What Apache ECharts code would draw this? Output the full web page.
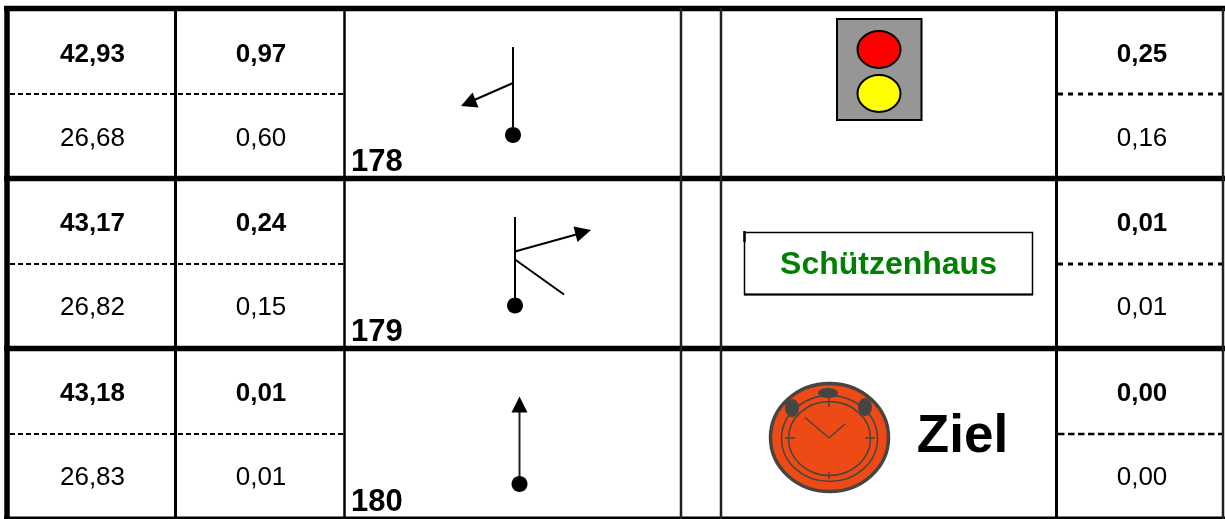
<!DOCTYPE html>
<html>
<head>
<meta charset="utf-8">
<style>
  html, body { margin: 0; padding: 0; background: #fff; }
  #chart { width: 1225px; height: 519px; }
</style>
<script src="https://cdn.jsdelivr.net/npm/echarts@6/dist/echarts.min.js"></script>
</head>
<body>
<div id="chart"></div>
<script>
// table values, one entry per row
var stationIds = [178, 179, 180];
var totalTop = [42.93, 43.17, 43.18];
var totalBottom = [26.68, 26.82, 26.83];
var legTop = [0.97, 0.24, 0.01];
var legBottom = [0.60, 0.15, 0.01];
var restTop = [0.25, 0.01, 0.00];
var restBottom = [0.16, 0.01, 0.00];
var landmarkLabels = ["", "Schützenhaus", "Ziel"];

// layout, in the pixel units of the hidden axes
var rowLines = [8.5, 178.5, 348.5, 518];
var dashLines = [94, 264, 434];
var rowTextTop = [55, 224, 394];
var rowTextBottom = [139, 308, 478];
var idBaseline = [162, 332, 502];
var colLines = [7, 175.5, 344.5, 681, 721, 1056.5, 1223];
var colCenter = { total: 92.5, leg: 261, rest: 1142 };

var FONT = '"Liberation Sans", Arial, sans-serif';

function fmt(v) {
  return v.toFixed(2).replace(".", ",");
}

function seg(api, x1, y1, x2, y2, w, color, dash) {
  var a = api.coord([x1, y1]);
  var b = api.coord([x2, y2]);
  return {
    type: "line",
    shape: { x1: a[0], y1: a[1], x2: b[0], y2: b[1] },
    style: { stroke: color || "#000", lineWidth: w, lineDash: dash || null }
  };
}

function label(api, x, y, str, size, bold, color, align) {
  var p = api.coord([x, y]);
  return {
    type: "text",
    style: {
      text: str,
      x: p[0],
      y: p[1],
      font: (bold ? "bold " : "") + size + "px " + FONT,
      fill: color || "#000",
      align: align || "center",
      verticalAlign: "middle"
    }
  };
}

function poly(api, pts, fill) {
  return {
    type: "polygon",
    shape: { points: pts.map(function(p) { return api.coord(p); }) },
    style: { fill: fill || "#000" }
  };
}

function ellipse(api, cx, cy, rx, ry, fill, stroke, w) {
  var c = api.coord([cx, cy]);
  return {
    type: "ellipse",
    shape: { cx: c[0], cy: c[1], rx: rx, ry: ry },
    style: { fill: fill || "none", stroke: stroke || null, lineWidth: w || 0 }
  };
}

function renderGrid(params, api) {
  var kids = [];
  rowLines.forEach(function(y, i) {
    kids.push(seg(api, 4, y, 1225, y, i === 3 ? 3 : 5.5));
  });
  colLines.forEach(function(x, i) {
    var w = i === 0 ? 5.5 : (i === 1 || i === 5 ? 3 : 2.5);
    var color = i === 3 || i === 4 || i === 6 ? "#222" : "#000";
    kids.push(seg(api, x, 8, x, 519, w, color));
  });
  dashLines.forEach(function(y, i) {
    kids.push(seg(api, 10, y, 343, y, 2, "#000", [5, 3]));
    // the last column has heavier dashes than the left ones
    kids.push(seg(api, 1058, y, 1222, y, i === 2 ? 2.5 : 3, "#000", i === 2 ? [6.5, 3.5] : [5, 5]));
  });
  return { type: "group", children: kids };
}

function renderCells(params, api) {
  var i = api.value(0);
  var kids = [
    label(api, colCenter.total, rowTextTop[i], fmt(totalTop[i]), 26, true),
    label(api, colCenter.total, rowTextBottom[i], fmt(totalBottom[i]), 26, false),
    label(api, colCenter.leg, rowTextTop[i], fmt(legTop[i]), 26, true),
    label(api, colCenter.leg, rowTextBottom[i], fmt(legBottom[i]), 26, false),
    label(api, colCenter.rest, rowTextTop[i], fmt(restTop[i]), 26, true),
    label(api, colCenter.rest, rowTextBottom[i], fmt(restBottom[i]), 26, false),
    label(api, 351, idBaseline[i], String(stationIds[i]), 31, true, "#000", "left")
  ];
  return { type: "group", children: kids };
}

function renderTurns(params, api) {
  var i = api.value(0);
  var kids = [];
  if (i === 0) {
    kids.push(seg(api, 513, 47, 513, 135, 2));
    kids.push(seg(api, 513, 83, 472, 101, 2));
    kids.push(poly(api, [[461, 106], [472.5, 92.5], [478.5, 107.5]]));
    kids.push(ellipse(api, 513, 135, 8, 8, "#000"));
  } else if (i === 1) {
    kids.push(seg(api, 515, 217, 515, 305, 2));
    kids.push(seg(api, 515, 251.5, 578, 234, 2));
    kids.push(seg(api, 515, 259.5, 564, 294.5, 2));
    kids.push(poly(api, [[591, 230], [573.5, 226.5], [577.5, 242]]));
    kids.push(ellipse(api, 515, 305.5, 8, 8, "#000"));
  } else {
    kids.push(seg(api, 519.5, 410, 519.5, 484, 2, "#222"));
    kids.push(poly(api, [[519.5, 396.5], [511.5, 412.5], [527.5, 412.5]]));
    kids.push(ellipse(api, 519.5, 484, 8, 8, "#000"));
  }
  return { type: "group", children: kids };
}

function renderLandmarks(params, api) {
  var i = api.value(0);
  var kids = [];
  if (i === 0) {
    var a = api.coord([837, 19]);
    kids.push({
      type: "rect",
      shape: { x: a[0], y: a[1], width: 84.5, height: 101 },
      style: { fill: "#969696", stroke: "#000", lineWidth: 2 }
    });
    kids.push(ellipse(api, 879, 49.5, 21.5, 18.5, "#ff0000", "#000", 2));
    kids.push(ellipse(api, 879, 93.5, 21.5, 18.5, "#ffff00", "#000", 2));
  } else if (i === 1) {
    var b = api.coord([744.5, 232.5]);
    kids.push({
      type: "rect",
      shape: { x: b[0], y: b[1], width: 288, height: 62 },
      style: { fill: "#fff", stroke: "#000", lineWidth: 1.5 }
    });
    kids.push(seg(api, 744.5, 231, 744.5, 242, 2.5));
    kids.push(seg(api, 744, 294.5, 1033, 294.5, 2));
    kids.push(label(api, 888.5, 265, landmarkLabels[i], 32, true, "#008000"));
  } else {
    // clock face
    var dark = "#474542";
    kids.push(ellipse(api, 829.5, 437.5, 59, 54, "#ee4a16", dark, 3.5));
    kids.push(ellipse(api, 792, 408, 7, 9, dark));
    kids.push(ellipse(api, 828, 393, 10, 5, dark));
    kids.push(ellipse(api, 865, 407, 7, 9, dark));
    kids.push(ellipse(api, 829.5, 438.5, 48, 43, null, dark, 1.5));
    kids.push(ellipse(api, 829.5, 438.5, 41, 37, null, dark, 1.5));
    kids.push(seg(api, 829, 438, 805, 417.5, 1.5, dark));
    kids.push(seg(api, 829, 438, 845, 424, 1.5, dark));
    kids.push(seg(api, 829, 398, 829, 407, 1.5, dark));
    kids.push(seg(api, 829, 472, 829, 479, 1.5, dark));
    kids.push(seg(api, 785, 438, 795, 438, 1.5, dark));
    kids.push(seg(api, 865, 438, 875, 438, 1.5, dark));
    kids.push(label(api, 962.5, 437, landmarkLabels[i], 53, true));
  }
  return { type: "group", children: kids };
}

var rowIndex = stationIds.map(function(id, i) { return [i]; });

var chart = echarts.init(document.getElementById("chart"));
chart.setOption({
  animation: false,
  backgroundColor: "#fff",
  grid: { left: 0, right: 0, top: 0, bottom: 0 },
  xAxis: { type: "value", min: 0, max: 1225, show: false },
  yAxis: { type: "value", min: 0, max: 519, inverse: true, show: false },
  series: [
    { type: "custom", coordinateSystem: "cartesian2d", silent: true, clip: false, data: [[0]], renderItem: renderGrid },
    { type: "custom", coordinateSystem: "cartesian2d", silent: true, clip: false, data: rowIndex, renderItem: renderCells },
    { type: "custom", coordinateSystem: "cartesian2d", silent: true, clip: false, data: rowIndex, renderItem: renderTurns },
    { type: "custom", coordinateSystem: "cartesian2d", silent: true, clip: false, data: rowIndex, renderItem: renderLandmarks }
  ]
});
</script>
</body>
</html>
